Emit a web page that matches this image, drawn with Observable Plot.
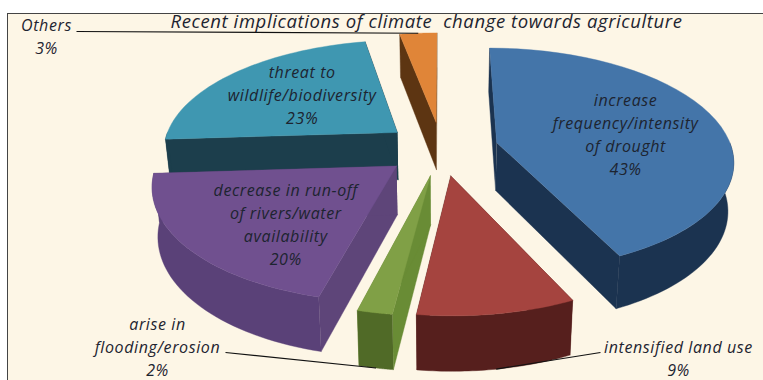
<!DOCTYPE html>
<html>
<head>
<meta charset="utf-8">
<script src="https://cdn.jsdelivr.net/npm/d3@7"></script>
<script src="https://cdn.jsdelivr.net/npm/@observablehq/plot@0.6"></script>
<style>
  html, body { margin: 0; padding: 0; background: #fff; }
  svg { display: block; }
</style>
</head>
<body>
<div id="chart"></div>
<script>
// Shares of reported climate-change implications for agriculture
const categories = [
  "increase\nfrequency/intensity\nof drought",
  "intensified land use",
  "arise in\nflooding/erosion",
  "decrease in run-off\nof rivers/water\navailability",
  "threat to\nwildlife/biodiversity",
  "Others"
];
const shares = [43, 9, 2, 20, 23, 3];
const topColors = ["#4475a9", "#a5443f", "#80a046", "#70508f", "#3f97b1", "#e08538"];
const outerWallColors = ["#1b3350", "#561f1d", "#506a27", "#5a4178", "#1c3e4c", "#5d3512"];
const innerWallColors = ["#1b3350", "#561f1d", "#698c35", "#5e4579", "#1c3e4c", "#5d3512"];

// Label placement: inside labels are nudged from the slice's centre,
// outside labels sit at a fixed anchor with a leader line to the slice.
const labelLayout = [
  {dx: -4, dy: 4},
  {at: [678, 357], leaderFrom: [600, 352], leaderPlane: "bottom"},
  {at: [157, 345], leaderFrom: [225, 352], leaderPlane: "bottom"},
  {dx: 10, dy: 10},
  {dx: 6, dy: -2},
  {at: [46, 35], leaderFrom: [76, 31], leaderPlane: "top"}
];

// Perspective pie geometry
const radius = 235, explode = 57, thickness = 48;
const cx = 441, cy = 148, squash = 0.469, perspective = 0.00063, bottomShrink = 0.98;

const rad = (deg) => (deg * Math.PI) / 180;
const total = d3.sum(shares);
const cumulative = d3.cumsum(shares);

const slices = shares.map((value, i) => {
  const end = (cumulative[i] / total) * 360;
  const start = end - (value / total) * 360;
  const mid = (start + end) / 2;
  return {i, value, start, end, mid, ox: explode * Math.sin(rad(mid)), oy: explode * Math.cos(rad(mid))};
});

// Disc coordinates (relative to the slice apex) to page coordinates
function project(slice, angle, r, plane) {
  const X = slice.ox + r * Math.sin(rad(angle));
  const Y = slice.oy + r * Math.cos(rad(angle));
  const s = 1 / (1 + perspective * Y);
  const px = X * s, py = -squash * Y * s;
  return plane === "top"
    ? {x: cx + px, y: cy + py}
    : {x: cx + px * bottomShrink, y: cy + py * bottomShrink + thickness * s};
}

const arc = (slice, a0, a1, plane) =>
  d3.range(0, 41).map((k) => project(slice, a0 + ((a1 - a0) * k) / 40, radius, plane));

function radialWall(slice, angle) {
  return [
    project(slice, 0, 0, "top"),
    project(slice, angle, radius, "top"),
    project(slice, angle, radius, "bottom"),
    project(slice, 0, 0, "bottom")
  ];
}

// Faces of one slice, back to front
function sliceFaces(slice) {
  const faces = [
    {points: radialWall(slice, slice.start), color: innerWallColors[slice.i]},
    {points: radialWall(slice, slice.end), color: innerWallColors[slice.i]}
  ];
  // only the rim turned towards the viewer is visible
  const a0 = Math.max(slice.start, 90), a1 = Math.min(slice.end, 270);
  if (a1 > a0) {
    faces.push({
      points: [...arc(slice, a0, a1, "top"), ...arc(slice, a1, a0, "bottom")],
      color: outerWallColors[slice.i]
    });
  }
  faces.push({
    points: [project(slice, 0, 0, "top"), ...arc(slice, slice.start, slice.end, "top")],
    color: topColors[slice.i]
  });
  return faces;
}

// Paint order: far slices first so nearer ones overlap them
const paintOrder = [5, 4, 0, 3, 2, 1];
const faces = paintOrder.flatMap((i) => sliceFaces(slices[i]));

const labels = slices.map((slice) => {
  const layout = labelLayout[slice.i];
  const text = `${categories[slice.i]}\n${slice.value}%`;
  if (layout.at) return {text, x: layout.at[0], y: layout.at[1]};
  const p = project(slice, slice.mid, radius * 0.6, "top");
  return {text, x: p.x + layout.dx, y: p.y + layout.dy};
});

const leaders = slices
  .filter((slice) => labelLayout[slice.i].leaderFrom)
  .map((slice) => {
    const layout = labelLayout[slice.i];
    const tip = project(slice, slice.mid, radius, layout.leaderPlane);
    return {x1: layout.leaderFrom[0], y1: layout.leaderFrom[1], x2: tip.x, y2: tip.y};
  });

const textStyle = {
  fontFamily: "'Open Sans', sans-serif",
  fontStyle: "italic",
  fill: "#1d2430",
  stroke: "none"
};

const chart = Plot.plot({
  width: 763,
  height: 380,
  margin: 0,
  style: {letterSpacing: "0.6px"},
  x: {domain: [0, 763], range: [0, 763], axis: null},
  y: {domain: [0, 380], range: [0, 380], axis: null},
  marks: [
    Plot.rect([{x1: 7, x2: 763, y1: 13, y2: 380}], {x1: "x1", x2: "x2", y1: "y1", y2: "y2", fill: "#fdf6e6"}),
    Plot.ruleY([13], {x1: 7, x2: 763, stroke: "#444", strokeWidth: 1}),
    Plot.ruleX([7], {y1: 13, y2: 380, stroke: "#444", strokeWidth: 1}),
    ...faces.map((face) =>
      Plot.line(face.points, {x: "x", y: "y", fill: face.color, stroke: face.color, strokeWidth: 0.4, curve: "linear"})
    ),
    Plot.link(leaders, {x1: "x1", y1: "y1", x2: "x2", y2: "y2", stroke: "#111", strokeWidth: 1.2}),
    Plot.text(["Recent implications of climate  change towards agriculture"], {
      x: 426, y: 22, text: (d) => d, fontSize: 18.5, ...textStyle
    }),
    Plot.text(labels, {x: "x", y: "y", text: "text", fontSize: 16, lineHeight: 1.44, ...textStyle})
  ]
});
document.getElementById("chart").append(chart);
</script>
</body>
</html>
